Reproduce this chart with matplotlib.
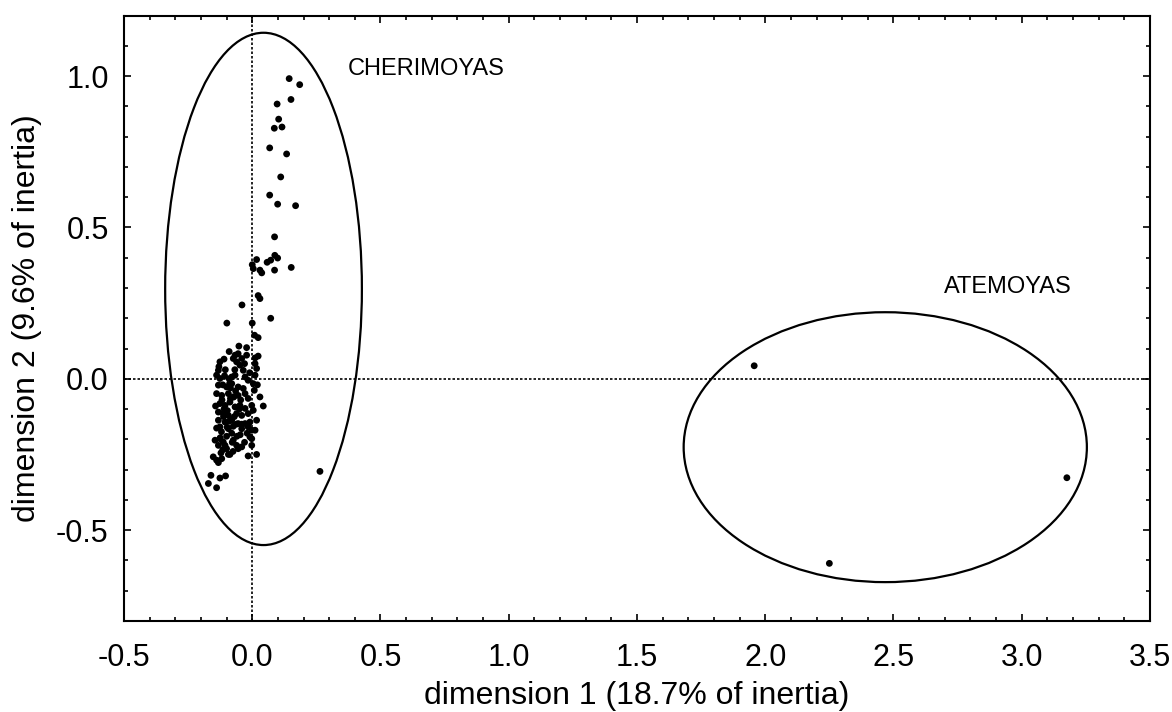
import matplotlib
matplotlib.use("Agg")
import matplotlib.pyplot as plt
from matplotlib.patches import Ellipse
from matplotlib.ticker import MultipleLocator

plt.rcParams['font.family'] = ['Liberation Sans', 'DejaVu Sans']

# Cherimoya scores (dimension 1, dimension 2)
cher_x = [0.144, 0.185, 0.097, 0.151, 0.103, 0.086, 0.116, 0.068, 0.134, 0.111,
          0.068, 0.099, 0.169, 0.087, 0.088, 0.099, 0.058, 0.072, 0.017, 0.000,
          0.004, 0.030, 0.037, 0.087, 0.152, 0.023, 0.030, -0.040, 0.072, -0.099,
          0.000, 0.009, 0.023, 0.264,
          -0.052, -0.022, -0.067, -0.055, -0.074, -0.041, -0.061, -0.022, 0.011, 0.023,
          -0.126, 0.011, -0.048, 0.017, -0.132, -0.139, -0.126, -0.080, -0.067, -0.028,
          -0.016, 0.011, -0.035, -0.132, -0.100, -0.080, -0.055, -0.035, 0.004, 0.008,
          -0.139, -0.119, -0.093, -0.074, -0.055, -0.028, -0.016, 0.043, -0.126, -0.106,
          -0.087, -0.067, -0.048, -0.028, -0.002, 0.004, -0.132, -0.113, -0.093, -0.061,
          -0.041, -0.016, -0.132, -0.106, -0.080, -0.055, -0.028, -0.009, 0.017, -0.126,
          -0.093, -0.041, -0.016, -0.139, -0.074, -0.002, -0.002, -0.145, -0.126, -0.113,
          -0.106, -0.100, -0.132, -0.074, -0.061, -0.055, -0.041, -0.093, -0.016, 0.017,
          -0.152, -0.139, -0.119, -0.132, -0.161, -0.126, -0.104, -0.171, -0.139,
          -0.009, -0.002, -0.087, -0.041, 0.011,
          -0.115, -0.090, -0.105, -0.085, -0.065, -0.045, -0.110, -0.070, -0.050, -0.090,
          -0.120, -0.100, -0.080, -0.060, -0.115, -0.075, -0.130, -0.110, -0.090, -0.030,
          -0.010, 0.020, 0.030, -0.020, -0.030, -0.118, -0.097, -0.072, -0.108, -0.085,
          -0.062, -0.143, -0.125, -0.098, -0.078, -0.112, -0.088, -0.068, -0.047, -0.122]
cher_y = [0.992, 0.972, 0.908, 0.923, 0.858, 0.828, 0.832, 0.763, 0.743, 0.667,
          0.607, 0.577, 0.572, 0.469, 0.408, 0.399, 0.385, 0.392, 0.394, 0.377,
          0.364, 0.359, 0.350, 0.359, 0.368, 0.275, 0.265, 0.244, 0.200, 0.184,
          0.184, 0.144, 0.136, -0.306,
          0.108, 0.103, 0.078, 0.083, 0.067, 0.067, 0.056, 0.078, 0.069, 0.075,
          0.056, 0.050, 0.045, 0.034, 0.028, 0.012, 0.001, 0.006, 0.012, 0.006,
          -0.005, 0.012, 0.028, -0.021, -0.027, -0.016, -0.027, -0.032, -0.016, -0.038,
          -0.049, -0.055, -0.049, -0.060, -0.055, -0.049, -0.065, -0.090, -0.082, -0.088,
          -0.077, -0.093, -0.088, -0.098, -0.088, -0.104, -0.110, -0.115, -0.121, -0.115,
          -0.121, -0.115, -0.137, -0.143, -0.137, -0.148, -0.148, -0.143, -0.137, -0.159,
          -0.165, -0.165, -0.159, -0.163, -0.157, -0.170, -0.198, -0.203, -0.198, -0.209,
          -0.220, -0.231, -0.220, -0.203, -0.220, -0.231, -0.225, -0.250, -0.255, -0.250,
          -0.258, -0.269, -0.264, -0.277, -0.319, -0.328, -0.321, -0.346, -0.360,
          -0.192, -0.220, -0.250, -0.150, -0.170,
          -0.020, 0.000, 0.030, -0.065, -0.040, -0.070, -0.100, -0.125, -0.100, -0.140,
          -0.175, -0.190, -0.180, -0.190, -0.235, -0.240, 0.040, 0.065, 0.090, 0.050,
          0.020, -0.020, -0.060, -0.180, -0.210, -0.070, -0.105, -0.060, 0.010, -0.030,
          -0.150, -0.090, -0.195, -0.160, -0.210, -0.125, -0.015, 0.030, -0.185, -0.245]

# Atemoya scores
atem_x = [1.957, 2.250, 3.176]
atem_y = [0.043, -0.610, -0.327]

# Confidence ellipses: (centre x, centre y, width, height)
ell_cher = (0.044, 0.297, 0.767, 1.693)
ell_atem = (2.468, -0.226, 1.572, 0.892)

group_labels = ["CHERIMOYAS", "ATEMOYAS"]
label_pos_x = [0.373, 2.698]
label_pos_y = [1.025, 0.302]

fig = plt.figure(figsize=(11.72, 7.12), dpi=100)
ax = fig.add_axes([0.1058, 0.128, 0.8754, 0.850])

ax.set_xlim(-0.5, 3.5)
ax.set_ylim(-0.8, 1.2)

ax.axvline(0, color='black', lw=1.2, ls=(0, (1.5, 1.2)), zorder=1)
ax.axhline(0, color='black', lw=1.2, ls=(0, (1.5, 1.2)), zorder=1)

ax.scatter(cher_x, cher_y, s=24, color='black', edgecolors='none', zorder=3)
ax.scatter(atem_x, atem_y, s=24, color='black', edgecolors='none', zorder=3)

for cx, cy, w, h in (ell_cher, ell_atem):
    ax.add_patch(Ellipse((cx, cy), w, h, fill=False, ec='black', lw=1.6, zorder=2))

for lab, lx, ly in zip(group_labels, label_pos_x, label_pos_y):
    ax.text(lx, ly, lab, fontsize=17, ha='left', va='center')

ax.xaxis.set_major_locator(MultipleLocator(0.5))
ax.xaxis.set_minor_locator(MultipleLocator(0.1))
ax.yaxis.set_major_locator(MultipleLocator(0.5))
ax.yaxis.set_minor_locator(MultipleLocator(0.1))
ax.xaxis.set_major_formatter(matplotlib.ticker.FormatStrFormatter('%.1f'))
ax.yaxis.set_major_formatter(matplotlib.ticker.FormatStrFormatter('%.1f'))
ax.tick_params(which='both', direction='in', top=True, right=True, width=1.2)
ax.tick_params(which='major', length=5, labelsize=22)
ax.tick_params(axis='x', which='major', pad=16)
ax.tick_params(axis='y', which='major', pad=11)
ax.tick_params(which='minor', length=3)
for sp in ax.spines.values():
    sp.set_linewidth(1.5)

ax.set_xlabel("dimension 1 (18.7% of inertia)", fontsize=23, labelpad=6)
ax.set_ylabel("dimension 2 (9.6% of inertia)", fontsize=23, labelpad=10)

fig.savefig("out.png", dpi=100)
